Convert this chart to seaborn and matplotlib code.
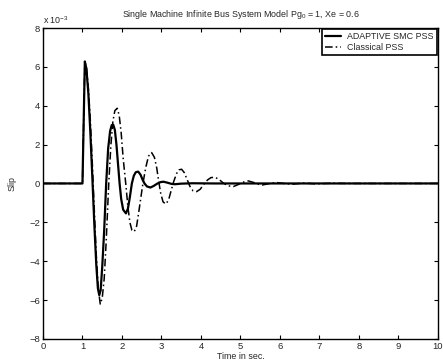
import matplotlib
matplotlib.use("Agg")
import matplotlib.pyplot as plt
import seaborn as sns
import pandas as pd

# time (s) and slip (x 1e-3)
t_smc = [0.0, 1.0, 1.06, 1.10, 1.15, 1.20, 1.25, 1.30, 1.35, 1.39, 1.425, 1.46, 1.50,
         1.55, 1.60, 1.65, 1.70, 1.74, 1.78, 1.82, 1.86, 1.90, 1.94, 1.98, 2.03,
         2.10, 2.15, 2.20, 2.25, 2.30, 2.35, 2.41, 2.47, 2.52, 2.57, 2.63, 2.72,
         2.80, 2.90, 2.98, 3.05, 3.15, 3.25, 3.34, 3.50, 3.80, 4.30, 10.0]
slip_smc = [0.0, 0.0, 6.28, 5.9, 4.6, 2.6, 0.3, -2.1, -4.2, -5.4, -5.75, -5.5, -4.3,
            -2.4, 0.0, 1.8, 2.7, 3.0, 3.02, 2.75, 2.0, 1.0, 0.0, -0.8, -1.35,
            -1.54, -1.3, -0.7, 0.0, 0.4, 0.58, 0.61, 0.45, 0.2, 0.0, -0.15, -0.21,
            -0.13, 0.0, 0.07, 0.09, 0.04, -0.02, -0.04, -0.01, 0.01, 0.0, 0.0]

t_cls = [0.0, 1.0, 1.06, 1.10, 1.15, 1.20, 1.25, 1.30, 1.35, 1.40, 1.45, 1.50, 1.55,
         1.60, 1.665, 1.72, 1.77, 1.82, 1.88, 1.93, 1.98, 2.03, 2.095, 2.15, 2.20,
         2.25, 2.31, 2.37, 2.43, 2.53, 2.60, 2.67, 2.75, 2.82, 2.88, 2.93, 2.98,
         3.04, 3.11, 3.18, 3.24, 3.31, 3.38, 3.44, 3.51, 3.58, 3.65, 3.72, 3.80,
         3.89, 3.98, 4.07, 4.16, 4.25, 4.35, 4.45, 4.56, 4.68, 4.82, 4.95, 5.05,
         5.20, 5.35, 5.45, 5.55, 5.70, 5.90, 6.10, 6.30, 6.60, 6.90, 7.30, 7.70, 10.0]
slip_cls = [0.0, 0.0, 6.28, 5.95, 4.9, 3.2, 1.0, -1.4, -3.7, -5.4, -6.21, -5.9, -4.9,
            -3.0, 0.0, 2.0, 3.2, 3.75, 3.87, 3.5, 2.6, 1.3, 0.0, -1.2, -2.0,
            -2.4, -2.48, -2.2, -1.4, 0.0, 0.8, 1.4, 1.59, 1.35, 0.8, 0.1, -0.5,
            -0.95, -1.06, -0.85, -0.4, 0.1, 0.5, 0.7, 0.73, 0.55, 0.2, -0.15, -0.38,
            -0.42, -0.3, -0.05, 0.17, 0.3, 0.32, 0.22, 0.03, -0.12, -0.16, -0.05, 0.06,
            0.13, 0.04, -0.04, -0.08, -0.02, 0.05, 0.0, -0.04, 0.02, -0.02, 0.01, 0.0, 0.0]

x_ticks = list(range(0, 11))
y_ticks = [-8, -6, -4, -2, 0, 2, 4, 6, 8]

sns.set_theme(style="ticks")
plt.rcParams['font.family'] = ['Liberation Sans', 'DejaVu Sans']
plt.rcParams['mathtext.default'] = 'regular'
fs = 6.4

fig = plt.figure(figsize=(4.43, 3.64), dpi=100)
ax = fig.add_axes([0.097, 0.069, 0.8917, 0.854])

df_smc = pd.DataFrame({"t": t_smc, "slip": slip_smc})
df_cls = pd.DataFrame({"t": t_cls, "slip": slip_cls})
sns.lineplot(data=df_smc, x="t", y="slip", ax=ax, color="black", linewidth=1.6,
             sort=False, estimator=None, label="ADAPTIVE SMC PSS")
sns.lineplot(data=df_cls, x="t", y="slip", ax=ax, color="black", linewidth=1.1,
             sort=False, estimator=None, label="Classical PSS")
ax.lines[1].set_dashes([5, 2, 1, 2])

ax.set_xlim(0, 10)
ax.set_ylim(-8, 8)
ax.set_xticks(x_ticks)
ax.set_yticks(y_ticks)
ax.tick_params(direction="in", length=3, width=0.8, labelsize=fs + 0.4, pad=2,
               top=True, right=True, color="black")
for s in ax.spines.values():
    s.set_visible(True)
    s.set_linewidth(1.0)
    s.set_color("black")

ax.set_xlabel("Time in sec.", fontsize=fs, labelpad=1)
ax.set_ylabel("Slip", fontsize=fs, labelpad=9)
ax.set_title("Single Machine Infinite Bus System Model Pg$_0$ = 1, Xe = 0.6",
             fontsize=fs, pad=8)
ax.text(0.0, 1.008, "x 10$^{-3}$", transform=ax.transAxes, fontsize=fs,
        ha="left", va="bottom")

leg = ax.legend(loc="upper right", fontsize=fs, frameon=True, fancybox=False,
                borderpad=0.35, labelspacing=0.15, handlelength=1.8,
                handletextpad=0.7, borderaxespad=0.15)
leg.get_frame().set_edgecolor("black")
leg.get_frame().set_linewidth(1.2)
leg.get_frame().set_alpha(1)

fig.savefig("out.png", dpi=100)
